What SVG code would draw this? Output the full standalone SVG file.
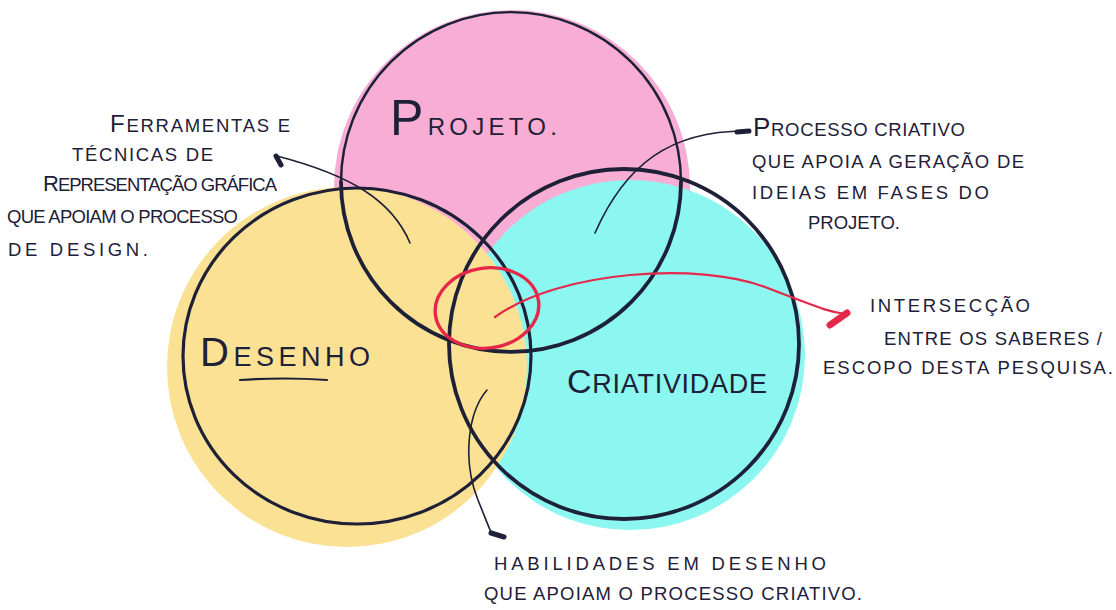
<svg xmlns="http://www.w3.org/2000/svg" width="1116" height="610" viewBox="0 0 1116 610">
  <defs>
    <style>
      .ink { fill: #1d2036; font-family: "Liberation Sans", Arial, sans-serif; }
      .note { font-size: 18.5px; }
      .outline { fill: none; stroke: #1d2036; stroke-linecap: round; }
      .wire { fill: none; stroke: #1d2036; stroke-width: 1.6; stroke-linecap: round; }
      .tip { fill: none; stroke: #1d2036; stroke-width: 5; stroke-linecap: round; }
      .red { fill: none; stroke: #e5284a; stroke-linecap: round; }
    </style>
  </defs>
  <rect width="1116" height="610" fill="#ffffff"/>

  <!-- colour discs, back to front -->
  <g id="fills">
    <circle cx="512" cy="188" r="178" fill="#f8aed4"/>
    <circle cx="630" cy="355" r="175" fill="#8cf7f0"/>
    <circle cx="347" cy="367" r="180" fill="#fbe193"/>
  </g>

  <!-- Projeto: light stroke on top, heavier on the lower arc -->
  <g id="projeto">
    <path class="outline" d="M341,182 A170,170 0 0 1 681,182" stroke-width="2.4"/>
    <path class="outline" d="M681,182 A170,170 0 0 1 341,182" stroke-width="3.8"/>
    <text class="ink" x="390" y="135" textLength="167" lengthAdjust="spacing"><tspan font-size="50">P</tspan><tspan font-size="24">ROJETO.</tspan></text>
  </g>

  <!-- Desenho -->
  <g id="desenho">
    <ellipse class="outline" cx="357" cy="356" rx="174" ry="168" stroke-width="3.2"/>
    <text class="ink" x="200" y="366" textLength="170" lengthAdjust="spacing"><tspan font-size="40">D</tspan><tspan font-size="27">ESENHO</tspan></text>
    <path d="M240,380 Q285,377 327,380" fill="none" stroke="#1d2036" stroke-width="2.2" stroke-linecap="round"/>
  </g>

  <!-- Criatividade -->
  <g id="criatividade">
    <circle class="outline" cx="624" cy="344" r="175" stroke-width="3.8"/>
    <text class="ink" x="567" y="393" textLength="200" lengthAdjust="spacing"><tspan font-size="34">C</tspan><tspan font-size="27">RIATIVIDADE</tspan></text>
  </g>

  <!-- intersection highlight -->
  <g id="intersecao">
    <ellipse class="red" cx="487" cy="308" rx="52" ry="40" transform="rotate(-8 487 308)" stroke-width="3.4"/>
  </g>

  <!-- connectors -->
  <g id="connectors">
    <path class="wire" d="M410,243 C392,200 350,175 277,156"/>
    <path class="tip" d="M276,156 L281,165"/>

    <path class="wire" d="M595,233 C625,165 670,130 748,131"/>
    <path class="tip" d="M737,132 L749,131" stroke-width="4"/>

    <path class="red" d="M495,317 C560,270 700,262 765,287 S830,312 846,314" stroke-width="2.2"/>
    <path class="red" d="M847,313 L830,325" stroke-width="7"/>

    <path class="wire" d="M487,390 C468,412 462,460 478,500 S489,528 492,533"/>
    <path class="tip" d="M491,533 L504,537" stroke-width="6"/>
  </g>

  <!-- notes -->
  <g id="nota-ferramentas" class="ink note">
    <text x="110" y="132" textLength="180" lengthAdjust="spacing"><tspan font-size="24">F</tspan>ERRAMENTAS E</text>
    <text x="72" y="161" textLength="141" lengthAdjust="spacing">TÉCNICAS DE</text>
    <text x="43" y="191" textLength="234" lengthAdjust="spacing"><tspan font-size="22">R</tspan>EPRESENTAÇÃO GRÁFICA</text>
    <text x="7" y="223" textLength="231" lengthAdjust="spacing">QUE APOIAM O PROCESSO</text>
    <text x="8" y="256" textLength="140" lengthAdjust="spacing">DE DESIGN.</text>
  </g>

  <g id="nota-processo" class="ink note">
    <text x="753" y="136" textLength="212" lengthAdjust="spacing"><tspan font-size="26">P</tspan>ROCESSO CRIATIVO</text>
    <text x="752" y="168" textLength="272" lengthAdjust="spacing">QUE APOIA A GERAÇÃO DE</text>
    <text x="752" y="199" textLength="237" lengthAdjust="spacing">IDEIAS EM FASES DO</text>
    <text x="808" y="229" textLength="92" lengthAdjust="spacing">PROJETO.</text>
  </g>

  <g id="nota-intersecao" class="ink note">
    <text x="870" y="312" textLength="160" lengthAdjust="spacing">INTERSECÇÃO</text>
    <text x="884" y="345" textLength="218" lengthAdjust="spacing">ENTRE OS SABERES /</text>
    <text x="823" y="374" textLength="290" lengthAdjust="spacing">ESCOPO DESTA PESQUISA.</text>
  </g>

  <g id="nota-habilidades" class="ink note">
    <text x="494" y="570" textLength="332" lengthAdjust="spacing">HABILIDADES EM DESENHO</text>
    <text x="484" y="600" textLength="378" lengthAdjust="spacing">QUE APOIAM O PROCESSO CRIATIVO.</text>
  </g>
</svg>
